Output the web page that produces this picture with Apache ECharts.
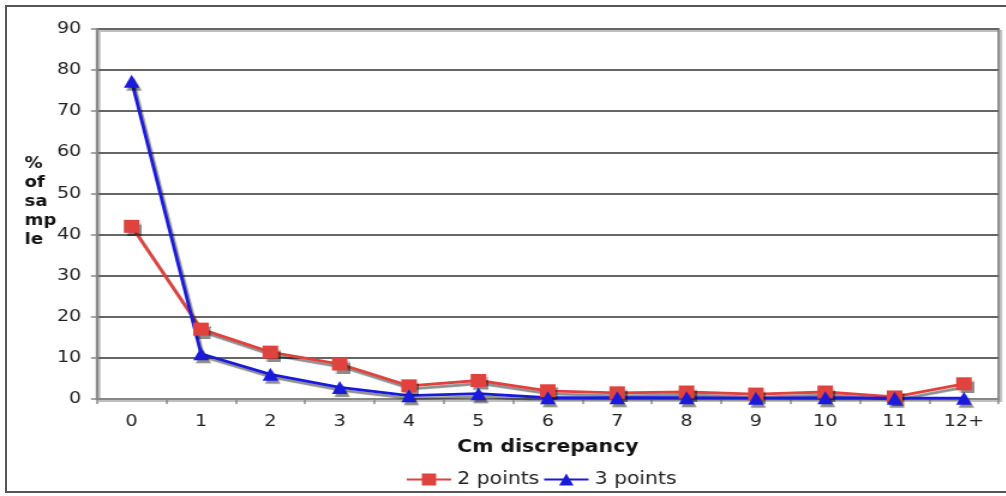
<!DOCTYPE html>
<html>
<head>
<meta charset="utf-8">
<script src="https://cdn.jsdelivr.net/npm/echarts@6/dist/echarts.min.js"></script>
<style>
html,body{margin:0;padding:0;background:#fff;overflow:hidden;}
#frame{position:absolute;left:5px;top:5px;width:1010px;height:488px;border:2px solid #555;box-sizing:border-box;}
#c{position:absolute;left:0;top:0;width:838.33px;height:496px;transform:scaleX(1.2);transform-origin:0 0;}
</style>
</head>
<body>
<div id="frame"></div>
<div id="c"></div>
<script>
var categories = ['0','1','2','3','4','5','6','7','8','9','10','11','12+'];
var twoPoints = [42, 17, 11.4, 8.5, 3.2, 4.5, 2, 1.5, 1.7, 1.2, 1.7, 0.5, 3.7];
var threePoints = [77.3, 11, 6, 2.8, 0.8, 1.3, 0.3, 0.3, 0.3, 0.2, 0.3, 0.2, 0.2];
var yTicks = [0, 10, 20, 30, 40, 50, 60, 70, 80, 90];

var chart = echarts.init(document.getElementById('c'), null, {renderer:'canvas'});
var font = 'DejaVu Sans, Verdana, sans-serif';
function mkSeries(name, data, color, symbol, size) {
  return {
    name: name, type: 'line', data: data,
    symbol: symbol, symbolSize: size,
    lineStyle: {color: color, width: 2.8, shadowColor: 'rgba(0,0,0,0.45)', shadowOffsetX: 2, shadowOffsetY: 3, shadowBlur: 1},
    itemStyle: {color: color, shadowColor: 'rgba(0,0,0,0.45)', shadowOffsetX: 2, shadowOffsetY: 3, shadowBlur: 1},
    emphasis: {disabled: true},
    animation: false
  };
}
chart.setOption({
  animation: false,
  textStyle: {fontFamily: font},
  grid: {left: 80.8, right: 5.8, top: 29, bottom: 97, containLabel: false,
         show: true, borderColor: '#888', borderWidth: 2, backgroundColor: 'transparent',
         shadowColor: 'rgba(0,0,0,0.25)', shadowOffsetX: 2, shadowOffsetY: 2},
  xAxis: {
    type: 'category', data: categories, boundaryGap: true,
    axisLine: {lineStyle: {color: '#888', width: 2}},
    axisTick: {show: true, length: 5, lineStyle: {color: '#888', width: 1.5}},
    axisLabel: {color: '#222', fontSize: 16, fontFamily: font, margin: 15},
    name: 'Cm discrepancy', nameLocation: 'middle', nameGap: 40,
    nameTextStyle: {color: '#111', fontSize: 17, fontWeight: 'bold', fontFamily: font}
  },
  yAxis: {
    type: 'value', min: 0, max: 90, interval: 10,
    axisLine: {show: true, lineStyle: {color: '#888', width: 2}},
    axisTick: {show: true, length: 5, lineStyle: {color: '#888', width: 1.5}},
    axisLabel: {color: '#222', fontSize: 16, fontFamily: font, margin: 13,
      formatter: function (v) { return yTicks.indexOf(v) >= 0 ? String(v) : ''; }},
    splitLine: {show: true, lineStyle: {color: '#666', width: 2}}
  },
  graphic: [{
    type: 'text', left: 20.5, top: 155,
    style: {text: '%\nof\nsa\nmp\nle', fill: '#111', font: 'bold 15px ' + font, lineHeight: 19}
  }],
  legend: {
    top: 466, left: 333, itemWidth: 37, itemHeight: 15, itemGap: 3,
    textStyle: {color: '#222', fontSize: 17, fontFamily: font},
    data: ['2 points', '3 points']
  },
  series: [
    mkSeries('2 points', twoPoints, '#e0433e', 'rect', 13),
    mkSeries('3 points', threePoints, '#1a1adc', 'triangle', 13)
  ]
});
</script>
</body>
</html>
